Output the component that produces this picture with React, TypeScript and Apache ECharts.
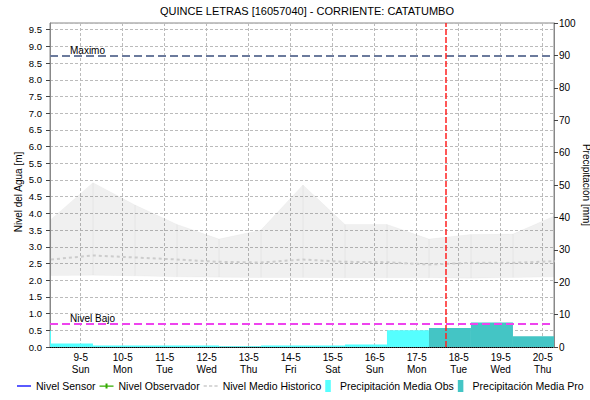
import React, { useEffect, useRef } from 'react';
import * as echarts from 'echarts';

// ---------- data ----------
const TITLE = 'QUINCE LETRAS [16057040] - CORRIENTE: CATATUMBO';
const Y_LEFT_NAME = 'Nivel del Agua [m]';
const Y_RIGHT_NAME = 'Precipitación [mm]';

const DAY_LABELS = ['9-5', '10-5', '11-5', '12-5', '13-5', '14-5', '15-5', '16-5', '17-5', '18-5', '19-5', '20-5'];
const WEEKDAY_LABELS = ['Sun', 'Mon', 'Tue', 'Wed', 'Thu', 'Fri', 'Sat', 'Sun', 'Mon', 'Tue', 'Wed', 'Thu'];

const VIEW_START = '8-5 06:27';
const VIEW_END = '20-5 06:27';
const NOW_TIME = '17-5 16:48';

const HIST_TIMES = ['8-5 07:00', '9-5 07:00', '10-5 07:00', '11-5 07:00', '12-5 07:00', '13-5 07:00', '14-5 07:00',
  '15-5 07:00', '16-5 07:00', '17-5 07:00', '18-5 07:00', '19-5 07:00', '20-5 07:00'];
const HIST_UPPER = [3.82, 4.92, 4.25, 3.67, 3.23, 3.5, 4.85, 3.67, 3.67, 3.23, 3.37, 3.38, 3.93];
const HIST_LOWER = [2.14, 2.15, 2.13, 2.1, 2.09, 2.08, 2.08, 2.07, 2.07, 2.07, 2.06, 2.08, 2.1];
const HIST_MEAN = [2.62, 2.74, 2.68, 2.62, 2.55, 2.53, 2.62, 2.55, 2.54, 2.47, 2.52, 2.52, 2.57];

const PRECIP_BIN_STARTS = ['7-5 07:00', '8-5 07:00', '9-5 07:00', '10-5 07:00', '11-5 07:00', '12-5 07:00', '13-5 07:00',
  '14-5 07:00', '15-5 07:00', '16-5 07:00', '17-5 07:00', '18-5 07:00', '19-5 07:00'];
const PRECIP_OBS: (number | null)[] = [5.0, 1.1, 0.5, 0.5, 0.5, 0.2, 0.5, 0.5, 0.8, 5.2, null, null, null];
const PRECIP_PRO: (number | null)[] = [null, null, null, null, null, null, null, null, null, null, 5.9, 7.6, 3.3];

const NIVEL_SENSOR: number[][] = [];
const NIVEL_OBSERVADOR: number[][] = [];

const NIVEL_MAXIMO = 8.73;
const NIVEL_BAJO = 0.69;

// ---------- helpers ----------
const toDay = (s: string): number => {
  const [date, time] = s.split(' ');
  const day = parseInt(date.split('-')[0], 10);
  const [h, m] = (time || '00:00').split(':').map(Number);
  return day - 9 + (h + m / 60) / 24;
};

const FONT = 'Liberation Sans';
const C_OBS = '#55ffff';
const C_PRO = '#44c5c5';

const binData = (vals: (number | null)[]) =>
  PRECIP_BIN_STARTS.map((s, i) => (vals[i] == null ? null : [toDay(s), toDay(s) + 1, vals[i] as number]))
    .filter((r) => r !== null) as number[][];

const clipTo = (cs: any) => ({ x: cs.x, y: cs.y, width: cs.width, height: cs.height });

const makeBarRender = (color: string) => (params: any, api: any) => {
  const s = api.value(0);
  const e = api.value(1);
  const v = api.value(2);
  const p0 = api.coord([s, v]);
  const p1 = api.coord([e, 0]);
  const rect = echarts.graphic.clipRectByRect(
    { x: p0[0], y: p0[1], width: p1[0] - p0[0], height: p1[1] - p0[1] },
    clipTo(params.coordSys)
  );
  if (!rect) return null;
  return { type: 'rect', shape: rect, style: { fill: color } };
};

// band segment between point i and i+1: rows are [x0, lo0, hi0, x1, lo1, hi1]
const bandRender = (params: any, api: any) => {
  const x0 = api.value(0), lo0 = api.value(1), hi0 = api.value(2);
  const x1 = api.value(3), lo1 = api.value(4), hi1 = api.value(5);
  const pts = [api.coord([x0, hi0]), api.coord([x1, hi1]), api.coord([x1, lo1]), api.coord([x0, lo0])];
  return {
    type: 'polygon',
    shape: { points: pts },
    style: { fill: 'rgba(0,0,0,0.06)', stroke: 'rgba(0,0,0,0.06)', lineWidth: 0.5 },
  };
};

export default function App() {
  const ref = useRef<HTMLDivElement>(null);

  useEffect(() => {
    if (!ref.current) return;
    const chart = echarts.init(ref.current, null, { renderer: 'svg' });

    const histX = HIST_TIMES.map(toDay);
    const bandRows = histX.slice(0, -1).map((x, i) => [
      x, HIST_LOWER[i], HIST_UPPER[i], histX[i + 1], HIST_LOWER[i + 1], HIST_UPPER[i + 1],
    ]);
    const gridLine = { show: true, lineStyle: { color: '#bbbbbb', type: [3, 2], width: 1 } };

    const option: any = {
      animation: false,
      backgroundColor: '#ffffff',
      textStyle: { fontFamily: FONT },
      title: {
        text: TITLE,
        left: 302,
        textAlign: 'center',
        top: 0,
        textStyle: { fontSize: 11, fontWeight: 'normal', color: '#000', fontFamily: FONT },
      },
      grid: {
        left: 50,
        right: 36,
        top: 23,
        bottom: 53,
        containLabel: false,
        outerBoundsMode: 'none',
        show: true,
        borderColor: '#888888',
        borderWidth: 1,
        backgroundColor: 'transparent',
      },
      legend: {
        left: 12,
        top: 375,
        width: 900,
        itemGap: 4,
        itemWidth: 14,
        itemHeight: 12,
        selectedMode: false,
        textStyle: { fontSize: 10.5, color: '#000', fontFamily: FONT },
        data: [
          { name: 'Nivel Sensor', icon: 'path://M0,0h14v1.3h-14z', itemStyle: { color: '#0000ff' } },
          { name: 'Nivel Observador', icon: 'path://M0,2h14v1.2h-14zM6,0h2v5h-2z', itemStyle: { color: '#33aa00' } },
          { name: 'Nivel Medio Historico', icon: 'path://M0,0h3v1.4h-3zM5,0h3v1.4h-3zM10,0h3v1.4h-3z', itemStyle: { color: '#cccccc' } },
          { name: 'Precipitación Media Obs', icon: 'path://M0,0h6v13h-6z', itemStyle: { color: C_OBS } },
          { name: 'Precipitación Media Pro', icon: 'path://M0,0h6v13h-6z', itemStyle: { color: C_PRO } },
        ],
      },
      xAxis: {
        type: 'value',
        min: toDay(VIEW_START),
        max: toDay(VIEW_END),
        splitNumber: 12,
        minInterval: 1,
        maxInterval: 1,
        axisLine: { show: true, onZero: false, lineStyle: { color: '#000', type: [1, 1], width: 1 } },
        axisTick: { show: false },
        splitLine: gridLine,
        axisLabel: {
          showMinLabel: false,
          showMaxLabel: false,
          margin: 4,
          fontSize: 10,
          lineHeight: 12,
          color: '#000',
          fontFamily: FONT,
          formatter: (v: number) => {
            const r = Math.round(v);
            if (Math.abs(v - r) > 1e-6 || r < 0 || r >= DAY_LABELS.length) return '';
            return DAY_LABELS[r] + '\n' + WEEKDAY_LABELS[r];
          },
        },
      },
      yAxis: [
        {
          type: 'value',
          min: 0,
          max: 9.7,
          interval: 0.5,
          name: Y_LEFT_NAME,
          nameLocation: 'middle',
          nameGap: 27,
          nameMoveOverlap: false,
          nameTextStyle: { fontSize: 10, color: '#000', fontFamily: FONT, padding: [0, 14, 0, 0] },
          axisLine: { show: true, onZero: false, lineStyle: { color: '#888888' } },
          axisTick: { show: true, length: 4, lineStyle: { color: '#444' } },
          splitLine: gridLine,
          axisLabel: {
            showMaxLabel: false,
            margin: 8,
            fontSize: 9.5,
            color: '#000',
            fontFamily: FONT,
            formatter: (v: number) => v.toFixed(1),
          },
        },
        {
          type: 'value',
          min: 0,
          max: 100,
          interval: 10,
          position: 'right',
          name: Y_RIGHT_NAME,
          nameLocation: 'middle',
          nameRotate: -90,
          nameGap: 27,
          nameMoveOverlap: false,
          nameTextStyle: { fontSize: 10, color: '#000', fontFamily: FONT },
          axisLine: { show: true, onZero: false, lineStyle: { color: '#888888' } },
          axisTick: { show: true, length: 4, lineStyle: { color: '#444' } },
          splitLine: { show: false },
          axisLabel: { margin: 5, fontSize: 10, color: '#000', fontFamily: FONT },
        },
      ],
      series: [
        {
          name: 'histBand',
          type: 'custom',
          data: bandRows,
          encode: { x: [0, 3], y: [1, 2, 4, 5] },
          renderItem: bandRender,
          silent: true,
          clip: true,
          z: 1,
        },
        {
          name: 'Nivel Medio Historico',
          type: 'line',
          data: histX.map((x, i) => [x, HIST_MEAN[i]]),
          symbol: 'none',
          silent: true,
          itemStyle: { color: '#cccccc' },
          lineStyle: { color: '#cccccc', width: 2, type: [3, 3] },
          z: 2,
          markLine: {
            silent: true,
            symbol: 'none',
            animation: false,
            data: [
              {
                yAxis: NIVEL_MAXIMO,
                lineStyle: { color: '#6b7a9c', type: [8, 4], width: 2 },
                label: {
                  show: true,
                  position: 'insideStartTop',
                  formatter: 'Maximo',
                  distance: [20, 0],
                  color: '#000',
                  fontSize: 10,
                  fontFamily: FONT,
                },
              },
              {
                yAxis: NIVEL_BAJO,
                lineStyle: { color: '#ee44ee', type: [8, 4], width: 2 },
                label: {
                  show: true,
                  position: 'insideStartTop',
                  formatter: 'Nivel Bajo',
                  distance: [20, 0],
                  color: '#000',
                  fontSize: 10,
                  fontFamily: FONT,
                },
              },
              {
                xAxis: toDay(NOW_TIME),
                lineStyle: { color: '#ff2222', type: [6, 2], width: 1.5 },
                label: { show: false },
              },
            ],
          },
        },
        {
          name: 'Precipitación Media Obs',
          type: 'custom',
          yAxisIndex: 1,
          data: binData(PRECIP_OBS),
          encode: { x: [0, 1], y: 2 },
          renderItem: makeBarRender(C_OBS),
          itemStyle: { color: C_OBS },
          silent: true,
          z: 3,
        },
        {
          name: 'Precipitación Media Pro',
          type: 'custom',
          yAxisIndex: 1,
          data: binData(PRECIP_PRO),
          encode: { x: [0, 1], y: 2 },
          renderItem: makeBarRender(C_PRO),
          itemStyle: { color: C_PRO },
          silent: true,
          z: 3,
        },
        {
          name: 'Nivel Sensor',
          type: 'line',
          data: NIVEL_SENSOR,
          symbol: 'none',
          itemStyle: { color: '#0000ff' },
          lineStyle: { color: '#0000ff' },
        },
        {
          name: 'Nivel Observador',
          type: 'line',
          data: NIVEL_OBSERVADOR,
          symbol: 'rect',
          symbolSize: 3,
          itemStyle: { color: '#33aa00' },
          lineStyle: { color: '#33aa00' },
        },
      ],
    };

    chart.setOption(option);
    return () => chart.dispose();
  }, []);

  return (
    <div
      ref={ref}
      style={{ position: 'fixed', left: 0, top: 0, width: 590, height: 400, background: '#fff' }}
    />
  );
}
